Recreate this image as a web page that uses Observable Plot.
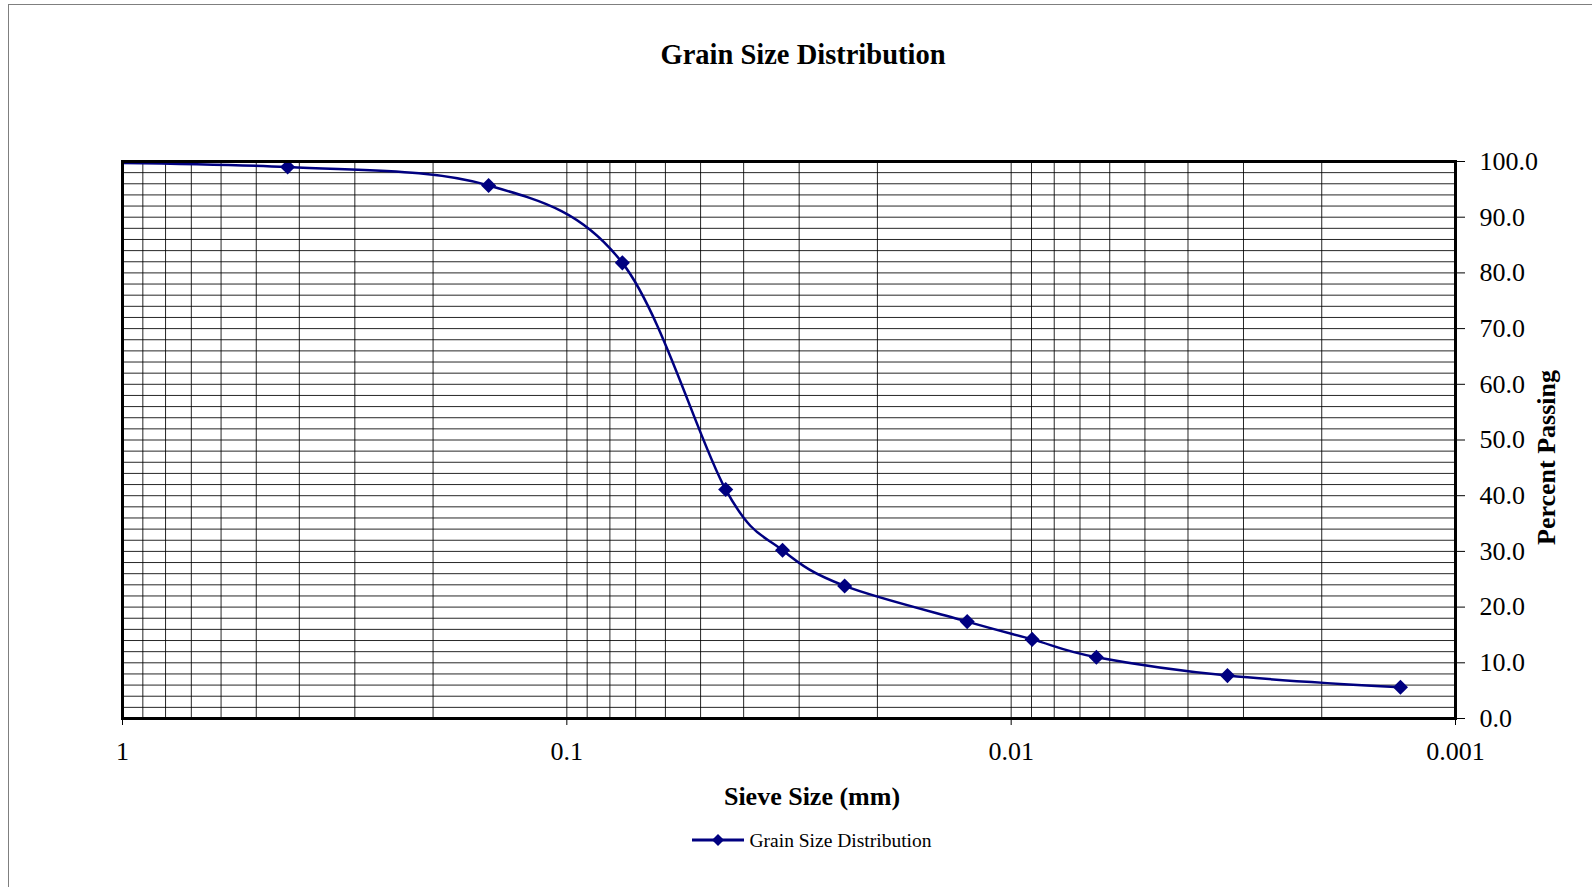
<!DOCTYPE html>
<html><head><meta charset="utf-8">
<script src="https://cdn.jsdelivr.net/npm/d3@7"></script>
<script src="https://cdn.jsdelivr.net/npm/@observablehq/plot@0.6"></script>
<style>
body{margin:0;background:#fff;}
#wrap{position:relative;width:1592px;height:887px;overflow:hidden;font-family:"Liberation Serif","Times New Roman",serif;color:#000;}
#border{position:absolute;z-index:5;pointer-events:none;left:8px;top:4px;width:1700px;height:1000px;border-left:1px solid #7f7f7f;border-top:1px solid #7f7f7f;}
#title{position:absolute;left:0;top:41px;width:1606px;text-align:center;font-weight:bold;font-size:28.5px;line-height:28px;}
#plot{position:absolute;left:0;top:100px;width:1592px;}
#legend-key{position:absolute;left:690px;top:833px;}
#legend-text{position:absolute;left:749.5px;top:830.5px;font-size:19.5px;line-height:19.5px;white-space:nowrap;}
</style></head>
<body>
<div id="wrap">
 <div id="title">Grain Size Distribution</div>
 <div id="plot"></div>
 <svg id="legend-key" width="56" height="14">
   <line x1="2" y1="7" x2="54" y2="7" stroke="#000080" stroke-width="3"/>
   <path d="M28,1L34,7L28,13L22,7Z" fill="#000080"/>
 </svg>
 <div id="legend-text">Grain Size Distribution</div>
 <div id="border"></div>
</div>
<script>
// Sieve size (mm) and percent passing
const sieveSize = [2.0, 0.425, 0.15, 0.075, 0.0439, 0.0327, 0.0237, 0.01256, 0.00897, 0.00643, 0.00326, 0.00133];
const percentPassing = [100, 99.0, 95.7, 81.8, 41.1, 30.2, 23.8, 17.4, 14.2, 11.0, 7.7, 5.6];
const xTicks = [1, 0.1, 0.01, 0.001];
const xTickLabels = ["1", "0.1", "0.01", "0.001"];
const yTicks = [0, 10, 20, 30, 40, 50, 60, 70, 80, 90, 100];
const decades = [0.1, 0.01, 0.001];
const multipliers = [1, 2, 3, 4, 5, 6, 7, 8, 9];
const yGrid = d3.range(0, 101, 2);

const data = sieveSize.map((s, i) => ({size: s, pct: percentPassing[i]}));
const xGrid = decades.flatMap(d => multipliers.map(m => m * d));

const chart = Plot.plot({
  width: 1592, height: 715,
  marginLeft: 122, marginRight: 137, marginTop: 61, marginBottom: 97,
  style: {fontFamily: "'Liberation Serif','Times New Roman',serif", fontSize: "26px", color: "#000", background: "#fff"},
  x: {type: "log", domain: [1, 0.001]},
  y: {domain: [0, 100]},
  marks: [
    Plot.ruleX(xGrid, {stroke: "#000", strokeWidth: 1, strokeOpacity: 0.85}),
    Plot.ruleY(yGrid, {stroke: "#000", strokeWidth: 1, strokeOpacity: 0.85}),
    Plot.line(data, {x: "size", y: "pct", curve: "cardinal", stroke: "#000080", strokeWidth: 2.5, clip: true}),
    Plot.dot(data, {x: "size", y: "pct", symbol: "diamond2", r: 6.8, fill: "#000080", clip: true}),
    Plot.frame({stroke: "#000", strokeWidth: 3}),
    Plot.axisX(xTicks, {anchor: "bottom", tickSize: 7, tickPadding: 16, tickFormat: d => xTickLabels[xTicks.indexOf(d)], label: null, fontSize: 26}),
    Plot.axisY(yTicks, {anchor: "right", tickSize: 9, tickPadding: 15, tickFormat: d => d.toFixed(1), label: null, fontSize: 26}),
    Plot.text(["Sieve Size (mm)"], {frameAnchor: "bottom", textAnchor: "middle", lineAnchor: "bottom", dy: 86, dx: 23, fontWeight: "bold", fontSize: 26}),
    Plot.text(["Percent Passing"], {frameAnchor: "right", textAnchor: "middle", rotate: -90, lineAnchor: "bottom", dx: 99, dy: 17.5, fontWeight: "bold", fontSize: 26})
  ]
});
document.getElementById("plot").appendChild(chart);
</script>
</body></html>
